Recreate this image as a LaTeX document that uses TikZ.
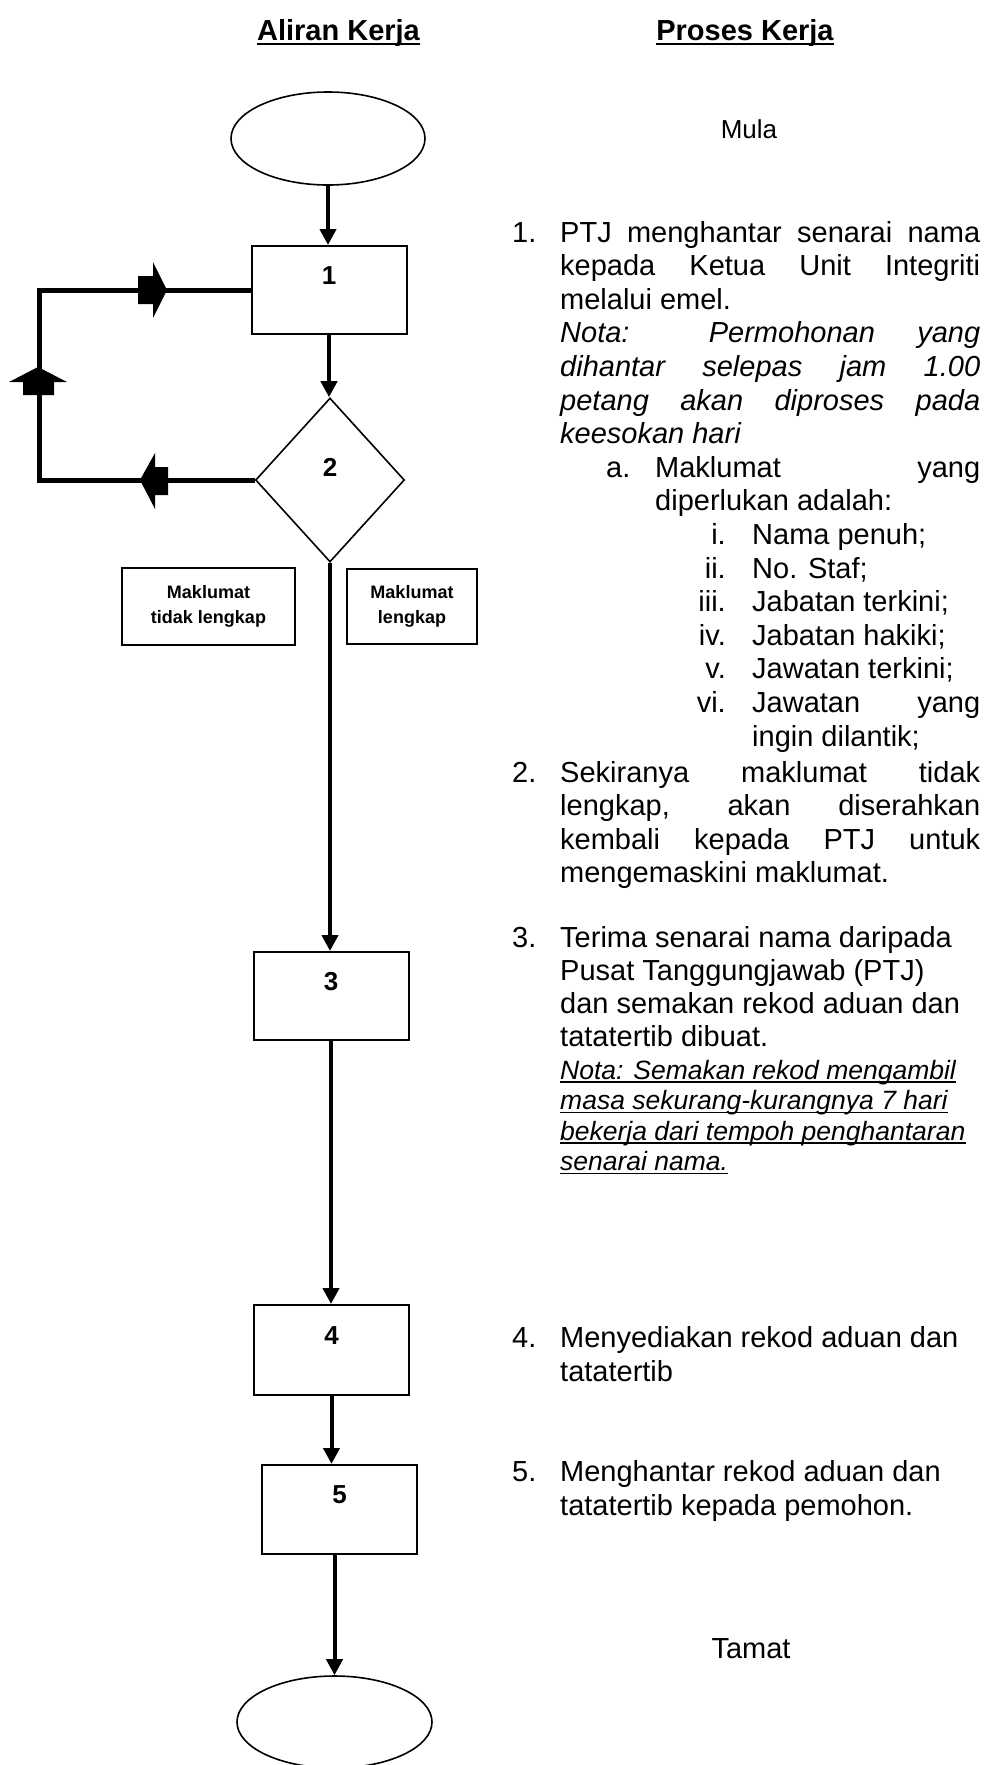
\documentclass[tikz,border=0pt]{standalone}
\usepackage{fontspec}
\setmainfont{Liberation Sans}
\usetikzlibrary{shapes.geometric,arrows.meta}
\newcommand\fsbody{\fontsize{29}{34}\selectfont}
\newcommand\fsnota{\fontsize{26.5}{30.5}\selectfont\itshape}
\newcommand\fstitle{\fontsize{29}{34}\selectfont\bfseries}
\newcommand\fsdigit{\fontsize{26}{30}\selectfont\bfseries}
\newcommand\fssmall{\fontsize{18}{25}\selectfont\bfseries}
\newcommand\fsmula{\fontsize{26}{30}\selectfont}
\newcommand\jl[2]{\makebox[#1][s]{#2}}
\begin{document}
\begin{tikzpicture}[x=1pt,y=-1pt,
  box/.style={draw, line width=2pt, minimum width=155pt, minimum height=88pt, inner sep=0pt},
  term/.style={draw, ellipse, line width=1.6pt, minimum width=194pt, minimum height=93pt, inner sep=0pt},
  dec/.style={draw, diamond, line width=1.6pt, minimum width=149pt, minimum height=164pt, inner sep=0pt},
  digit/.style={font=\fsdigit, inner sep=0pt},
  lbl/.style={draw, line width=2pt, align=center, font=\fssmall, inner sep=0pt},
  flow/.style={line width=4pt, -{Triangle[length=16pt,width=16pt]}},
  loopl/.style={line width=5pt},
  txt/.style={anchor=base west, inner sep=0pt, font=\fsbody},
  nota/.style={anchor=base west, inner sep=0pt, font=\fsbody\itshape},
  snota/.style={anchor=base west, inner sep=0pt, font=\fsnota},
  num/.style={anchor=base west, inner sep=0pt, font=\fsbody},
  rnum/.style={anchor=base east, inner sep=0pt, font=\fsbody},
  ttl/.style={anchor=base, inner sep=0pt, font=\fstitle},
  ul/.style={line width=1.5pt},
  blk/.style={fill=black}]
\useasboundingbox (0,0) rectangle (989,1765);
\fill[white] (0,0) rectangle (989,1765);

% ---------- titles ----------
\node[ttl] (t1) at (338.5,40) {Aliran Kerja};
\node[ttl] (t2) at (745,40) {Proses Kerja};
\draw[line width=2.5pt] ([yshift=-4pt]t1.base west) -- ([yshift=-4pt]t1.base east);
\draw[line width=2.5pt] ([yshift=-4pt]t2.base west) -- ([yshift=-4pt]t2.base east);

% ---------- flow chart ----------
\node[term] (e1) at (328,138.5) {};
\node[box] (b1) at (329,290) {};
\node[digit] (l1) at ([yshift=-31pt]b1.north) {1};
\node[dec] (d2) at (330,480) {};
\node[digit] (l2) at ([yshift=13pt]d2.center) {2};
\node[lbl, minimum width=173pt, minimum height=77pt] (m1) at (208.5,606.5) {Maklumat\\tidak lengkap};
\node[lbl, minimum width=130pt, minimum height=75pt] (m2) at (412,606.5) {Maklumat\\lengkap};
\node[box] (b3) at (331,996) {};
\node[digit] (l3) at ([yshift=-31pt]b3.north) {3};
\node[box, minimum height=90pt] (b4) at (331.5,1350) {};
\node[digit] (l4) at ([yshift=-32pt]b4.north) {4};
\node[box, minimum height=89pt] (b5) at (339.5,1509.5) {};
\node[digit] (l5) at ([yshift=-31pt]b5.north) {5};
\node[term, minimum width=195pt, minimum height=92pt] (e2) at (334.5,1722) {};

\draw[flow] (e1.south) -- (e1.south |- b1.north);
\draw[flow] (b1.south) -- (b1.south |- d2.north);
\draw[flow] (d2.south) -- (d2.south |- b3.north);
\draw[flow] (b3.south) -- (b3.south |- b4.north);
\draw[flow] (b4.south) -- (b4.south |- b5.north);
\draw[flow] (e2.north |- b5.south) -- (e2.north);

% loop back
\coordinate (lx) at (39,0);
\draw[loopl] (d2.west) -- (d2.west -| lx) |- (b1.west);
% block arrows
\fill[blk] (138,276) -- (153,276) -- (153,262) -- (167,290) -- (153,318) -- (153,304) -- (138,304) -- cycle;
\fill[blk] (23,395) -- (23,382) -- (9,382) -- (38,367) -- (67,382) -- (54,382) -- (54,395) -- cycle;
\fill[blk] (168,467) -- (155,467) -- (155,453) -- (140,480) -- (155,509) -- (155,495) -- (168,495) -- cycle;

% ---------- right column ----------
\node[anchor=base, inner sep=0pt, font=\fsmula] (mula) at (749,138) {Mula};

\node[num] (n1) at (512,242) {1.};
\node[txt] (p1) at (560,242) {\jl{420pt}{PTJ menghantar senarai nama}};
\node[txt] (p2) at (560,275.6) {\jl{420pt}{kepada Ketua Unit Integriti}};
\node[txt] (p3) at (560,309.2) {melalui emel.};
\node[nota] (p4) at (560,342.8) {\jl{420pt}{Nota: Permohonan yang}};
\node[nota] (p5) at (560,376.4) {\jl{420pt}{dihantar selepas jam 1.00}};
\node[nota] (p6) at (560,410) {\jl{420pt}{petang akan diproses pada}};
\node[nota] (p7) at (560,443.6) {keesokan hari};
\node[num] (na) at (606,477.2) {a.};
\node[txt] (p8) at (655,477.2) {\jl{325pt}{Maklumat yang}};
\node[txt] (p9) at (655,510.8) {diperlukan adalah:};
\node[rnum] (r1) at (726,544.4) {i.};
\node[txt] (q1) at (752,544.4) {Nama penuh;};
\node[rnum] (r2) at (726,578) {ii.};
\node[txt] (q2) at (752,578) {No. Staf;};
\node[rnum] (r3) at (726,611.6) {iii.};
\node[txt] (q3) at (752,611.6) {Jabatan terkini;};
\node[rnum] (r4) at (726,645.2) {iv.};
\node[txt] (q4) at (752,645.2) {Jabatan hakiki;};
\node[rnum] (r5) at (726,678.8) {v.};
\node[txt] (q5) at (752,678.8) {Jawatan terkini;};
\node[rnum] (r6) at (726,712.4) {vi.};
\node[txt] (q6) at (752,712.4) {\jl{228pt}{Jawatan yang}};
\node[txt] (q7) at (752,746) {ingin dilantik;};

\node[num] (n2) at (512,782) {2.};
\node[txt] (s1) at (560,782) {\jl{420pt}{Sekiranya maklumat tidak}};
\node[txt] (s2) at (560,815.6) {\jl{420pt}{lengkap, akan diserahkan}};
\node[txt] (s3) at (560,849.2) {\jl{420pt}{kembali kepada PTJ untuk}};
\node[txt] (s4) at (560,882.8) {mengemaskini maklumat.};

\node[num] (n3) at (512,947) {3.};
\node[txt] (u1) at (560,947) {Terima senarai nama daripada};
\node[txt] (u2) at (560,980.3) {Pusat Tanggungjawab (PTJ)};
\node[txt] (u3) at (560,1013.6) {dan semakan rekod aduan dan};
\node[txt] (u4) at (560,1046.9) {tatatertib dibuat.};
\node[snota] (v1) at (560,1079) {Nota: Semakan rekod mengambil};
\node[snota] (v2) at (560,1109.5) {masa sekurang-kurangnya 7 hari};
\node[snota] (v3) at (560,1140) {bekerja dari tempoh penghantaran};
\node[snota] (v4) at (560,1170.5) {senarai nama.};
\foreach \v in {v1,v2,v3,v4}
  \draw[ul] ([yshift=-3pt]\v.base west) -- ([yshift=-3pt]\v.base east);

\node[num] (n4) at (512,1347) {4.};
\node[txt] (w1) at (560,1347) {Menyediakan rekod aduan dan};
\node[txt] (w2) at (560,1381) {tatatertib};

\node[num] (n5) at (512,1481) {5.};
\node[txt] (x1) at (560,1481) {Menghantar rekod aduan dan};
\node[txt] (x2) at (560,1515) {tatatertib kepada pemohon.};

\node[anchor=base, inner sep=0pt, font=\fsbody] (tamat) at (751,1658) {Tamat};
\end{tikzpicture}
\end{document}
